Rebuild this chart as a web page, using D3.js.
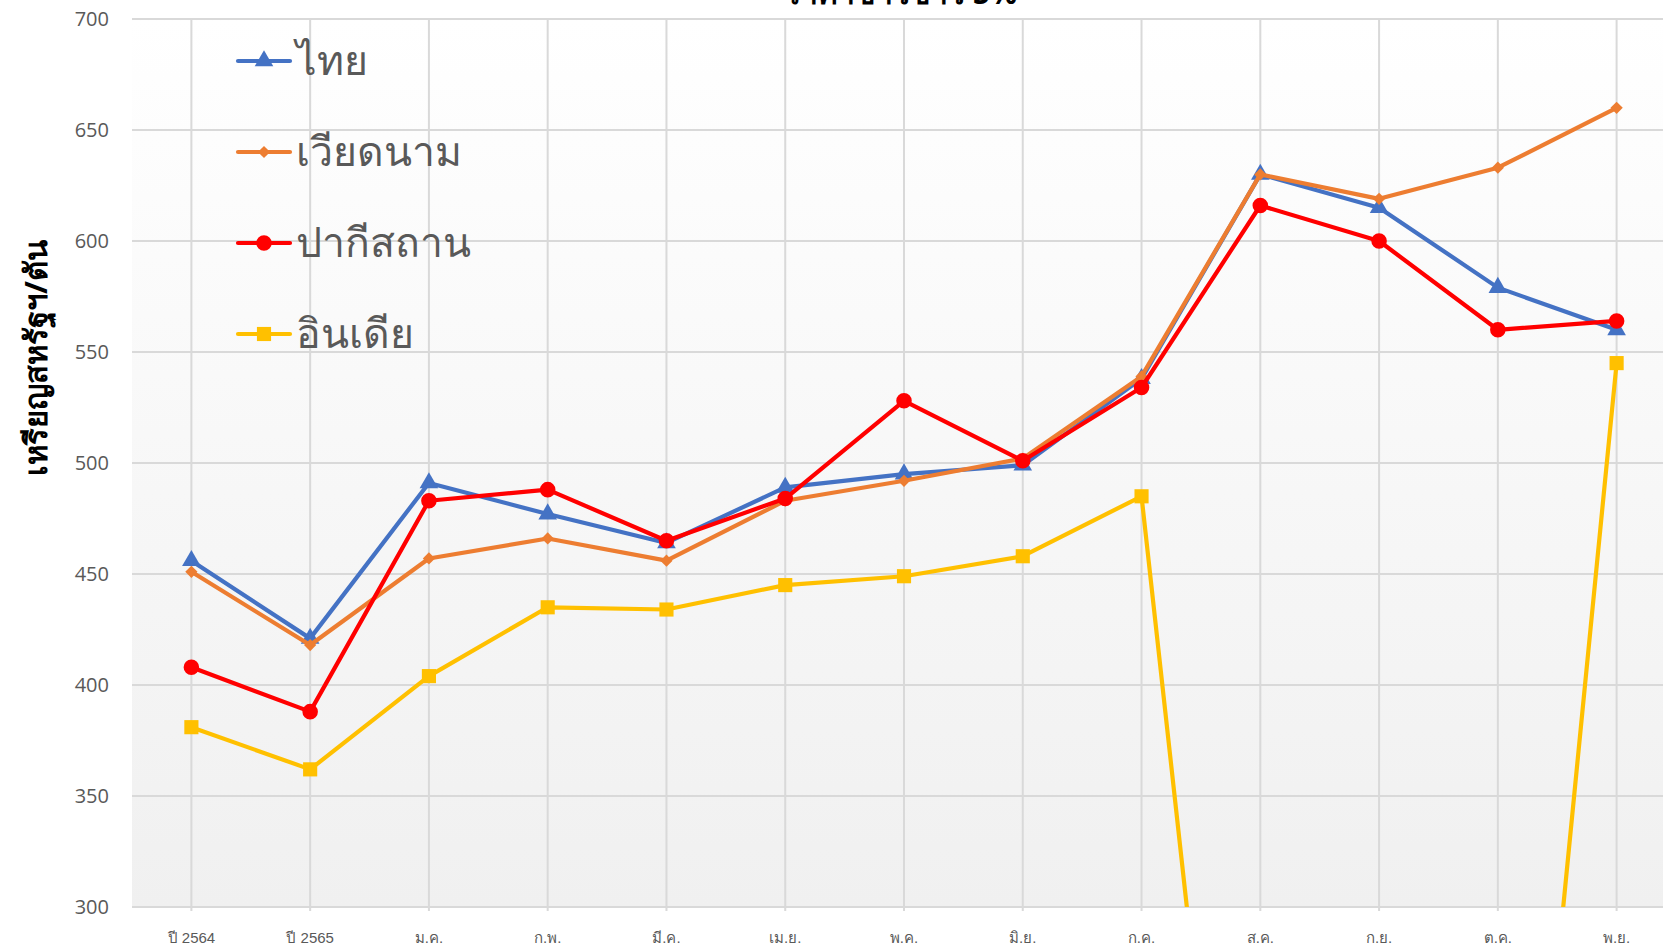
<!DOCTYPE html>
<html>
<head>
<meta charset="utf-8">
<script src="https://cdn.jsdelivr.net/npm/d3@7"></script>
<style>
  body { margin: 0; background: #ffffff; overflow: hidden; }
  svg { display: block; font-family: "Noto Sans", "DejaVu Sans", sans-serif; }
</style>
</head>
<body>
<div id="chart"></div>
<script>
// categories (x axis)
const months = ['ปี 2564', 'ปี 2565', 'ม.ค.', 'ก.พ.', 'มี.ค.', 'เม.ย.', 'พ.ค.', 'มิ.ย.', 'ก.ค.', 'ส.ค.', 'ก.ย.', 'ต.ค.', 'พ.ย.'];

// price series, USD / tonne
const thai     = [456, 421, 491, 477, 464, 489, 495, 499, 538, 630, 615, 579, 560];
const vietnam  = [451, 418, 457, 466, 456, 483, 492, 502, 539, 630, 619, 633, 660];
const pakistan = [408, 388, 483, 488, 465, 484, 528, 501, 534, 616, 600, 560, 564];
const india    = [381, 362, 404, 435, 434, 445, 449, 458, 485, 0, 0, 0, 545];

const yTicks = [300, 350, 400, 450, 500, 550, 600, 650, 700];

const seriesNames = ['ไทย', 'เวียดนาม', 'ปากีสถาน', 'อินเดีย'];

const W = 1663, H = 946;
const margin = { top: 19, right: -13, bottom: 39, left: 132 };
const width = W - margin.left - margin.right;
const height = H - margin.top - margin.bottom;

const svgRoot = d3.select('#chart').append('svg')
  .attr('width', W)
  .attr('height', H);

// plot area background gradient (white -> light grey)
const defs = svgRoot.append('defs');
const grad = defs.append('linearGradient')
  .attr('id', 'bgGrad')
  .attr('x1', 0).attr('y1', 0).attr('x2', 0).attr('y2', 1);
grad.append('stop').attr('offset', '0%').attr('stop-color', '#ffffff');
grad.append('stop').attr('offset', '100%').attr('stop-color', '#f0f0f0');

defs.append('clipPath').attr('id', 'plotClip')
  .append('rect').attr('x', 0).attr('y', -12).attr('width', width).attr('height', height + 12);

const svg = svgRoot.append('g')
  .attr('transform', `translate(${margin.left},${margin.top})`);

svg.append('rect')
  .attr('width', width)
  .attr('height', height)
  .attr('fill', 'url(#bgGrad)');

const x = d3.scaleBand()
  .domain(months)
  .range([0, width])
  .padding(0);

const y = d3.scaleLinear()
  .domain([300, 700])
  .range([height, 0]);

const cx = d => x(d) + x.bandwidth() / 2;

// horizontal grid
svg.append('g')
  .selectAll('line')
  .data(yTicks)
  .join('line')
  .attr('x1', 0).attr('x2', width)
  .attr('y1', d => y(d)).attr('y2', d => y(d))
  .attr('stroke', '#d9d9d9')
  .attr('stroke-width', 2);

// vertical grid at category centres
svg.append('g')
  .selectAll('line')
  .data(months)
  .join('line')
  .attr('x1', d => cx(d)).attr('x2', d => cx(d))
  .attr('y1', 0).attr('y2', height + 4)
  .attr('stroke', '#d9d9d9')
  .attr('stroke-width', 2);

// y axis labels
const yAxis = d3.axisLeft(y).tickValues(yTicks).tickSize(0).tickPadding(23);
const yAxisGroup = svg.append('g').call(yAxis);
yAxisGroup.select('.domain').remove();
yAxisGroup.selectAll('text')
  .style('fill', '#595959')
  .style('font-size', '20px')
  .style('font-family', '"Open Sans", "Noto Sans", sans-serif');

// x axis labels
const xAxis = d3.axisBottom(x).tickSize(0).tickPadding(25);
const xAxisGroup = svg.append('g')
  .attr('transform', `translate(0,${height})`)
  .call(xAxis);
xAxisGroup.select('.domain').remove();
xAxisGroup.selectAll('text')
  .style('fill', '#595959')
  .style('font-size', '15px');

// y axis title
svgRoot.append('text')
  .attr('transform', `translate(47,358) rotate(-90)`)
  .attr('text-anchor', 'middle')
  .style('font-size', '31px')
  .style('font-weight', 'bold')
  .style('fill', '#000')
  .text('เหรียญสหรัฐฯ/ตัน');

// chart title, mostly cut off by the top edge as in the source
svgRoot.append('text')
  .attr('x', 901)
  .attr('y', 4)
  .attr('text-anchor', 'middle')
  .style('font-size', '30px')
  .style('font-weight', 'bold')
  .style('fill', '#000')
  .text('ราคาข้าวขาว 5%');

// rot: extra rotation so the square becomes an Excel-like diamond
const series = [
  { name: seriesNames[0], values: thai,     color: '#4472C4', marker: d3.symbolTriangle, size: 150, rot: 0 },
  { name: seriesNames[1], values: vietnam,  color: '#ED7D31', marker: d3.symbolSquare,   size: 75,  rot: 45 },
  { name: seriesNames[2], values: pakistan, color: '#FF0000', marker: d3.symbolCircle,   size: 190, rot: 0 },
  { name: seriesNames[3], values: india,    color: '#FFC000', marker: d3.symbolSquare,   size: 200, rot: 0 }
];

const line = d3.line()
  .x((d, i) => cx(months[i]))
  .y(d => y(d));

const plot = svg.append('g').attr('clip-path', 'url(#plotClip)');

// stacking: India underneath, then Thailand, Vietnam, Pakistan on top
const drawOrder = [3, 0, 1, 2];
drawOrder.forEach(k => {
  const s = series[k];
  const g = plot.append('g');
  g.append('path')
    .datum(s.values)
    .attr('d', line)
    .attr('fill', 'none')
    .attr('stroke', s.color)
    .attr('stroke-width', 4.2)
    .attr('stroke-linejoin', 'round');
  g.selectAll('path.marker')
    .data(s.values.map((v, i) => ({ v, i })).filter(d => d.v >= 300))
    .join('path')
    .attr('class', 'marker')
    .attr('transform', d => `translate(${cx(months[d.i])},${y(d.v)}) rotate(${s.rot})`)
    .attr('d', d3.symbol().type(s.marker).size(s.size))
    .attr('fill', s.color);
});

// legend
const legendY = [61, 152, 243, 334];
const legend = svgRoot.append('g');
series.forEach((s, i) => {
  const gy = legendY[i];
  legend.append('line')
    .attr('x1', 238).attr('x2', 290)
    .attr('y1', gy).attr('y2', gy)
    .attr('stroke', s.color)
    .attr('stroke-width', 4.2)
    .attr('stroke-linecap', 'round');
  legend.append('path')
    .attr('transform', `translate(264,${gy}) rotate(${s.rot})`)
    .attr('d', d3.symbol().type(s.marker).size(s.size))
    .attr('fill', s.color);
  legend.append('text')
    .attr('x', 296)
    .attr('y', gy)
    .attr('dy', '0.35em')
    .style('font-size', '41px')
    .style('fill', '#595959')
    .text(s.name);
});
</script>
</body>
</html>
